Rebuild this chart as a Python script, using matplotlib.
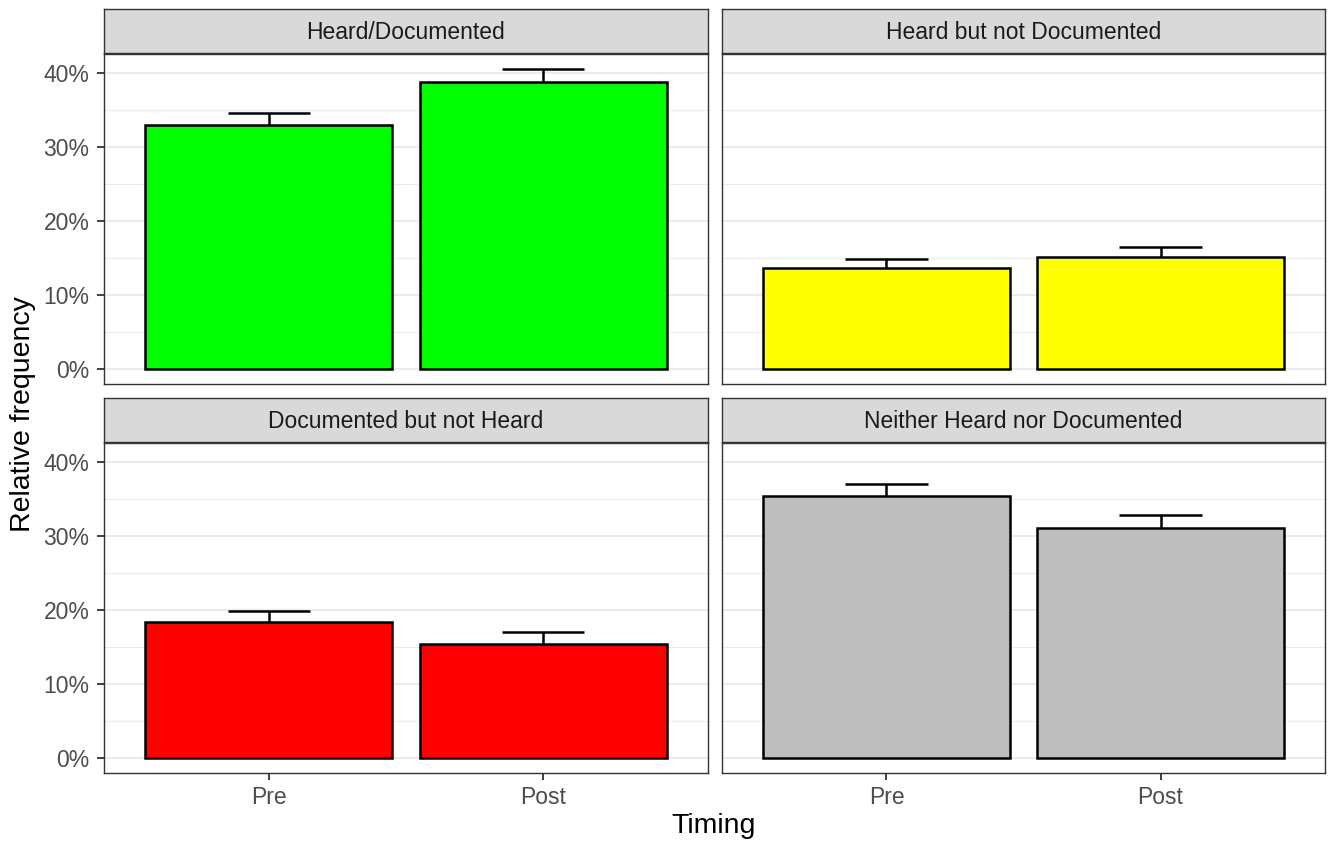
import numpy as np
import matplotlib.pyplot as plt
from matplotlib.ticker import FuncFormatter, MultipleLocator

plt.rcParams['font.family'] = ['Liberation Sans', 'DejaVu Sans']

panels = ['Heard/Documented', 'Heard but not Documented',
          'Documented but not Heard', 'Neither Heard nor Documented']
colors = ['#00FF00', '#FFFF00', '#FF0000', '#BEBEBE']
timing = ['Pre', 'Post']
freq = [[32.9, 38.7], [13.6, 15.1], [18.3, 15.4], [35.3, 31.0]]
upper = [[34.5, 40.5], [14.8, 16.5], [19.8, 17.0], [37.0, 32.8]]

W, H = 1328, 843
fig = plt.figure(figsize=(W / 100, H / 100), dpi=100)

# pixel boxes of the panel areas
cols = [(104, 708), (722, 1325)]
rows = [(54, 384), (443, 773)]
strip_h = 44

edge = '#333333'
for k in range(4):
    r, c = divmod(k, 2)
    x0, x1 = cols[c]
    y0, y1 = rows[r]
    ax = fig.add_axes([x0 / W, 1 - y1 / H, (x1 - x0) / W, (y1 - y0) / H])
    xs = np.arange(1, 3)
    ax.bar(xs, freq[k], width=0.9, color=colors[k], edgecolor='black',
           linewidth=1.8, zorder=3)
    for x, f, u in zip(xs, freq[k], upper[k]):
        ax.plot([x, x], [f, u], color='black', lw=1.8, zorder=4,
                solid_capstyle='butt')
        ax.plot([x - 0.15, x + 0.15], [u, u], color='black', lw=1.8,
                zorder=4, solid_capstyle='butt')
    ax.set_xlim(0.4, 2.6)
    ax.set_ylim(-2.03, 42.5)
    ax.yaxis.set_major_locator(MultipleLocator(10))
    ax.yaxis.set_minor_locator(MultipleLocator(5))
    ax.grid(which='major', axis='y', color='#EBEBEB', lw=1.4, zorder=0)
    ax.grid(which='minor', axis='y', color='#EBEBEB', lw=0.8, zorder=0)
    ax.set_xticks(xs)
    ax.tick_params(which='minor', length=0)
    ax.tick_params(which='major', length=5, width=1.3, color='#333333',
                   labelcolor='#4D4D4D', labelsize=16.5)
    ax.tick_params(axis='y', pad=5.5)
    ax.tick_params(axis='x', pad=4.5)
    for s in ax.spines.values():
        s.set_color(edge)
        s.set_linewidth(1.0)
    if c == 0:
        ax.yaxis.set_major_formatter(FuncFormatter(lambda v, p: '%d%%' % v))
    else:
        ax.set_yticklabels([])
        ax.tick_params(axis='y', length=0)
    if r == 1:
        ax.set_xticklabels(timing)
    else:
        ax.set_xticklabels([])
        ax.tick_params(axis='x', length=0)

    sax = fig.add_axes([x0 / W, 1 - (y0 - 1) / H, (x1 - x0) / W, strip_h / H])
    sax.set_facecolor('#D9D9D9')
    sax.set_xticks([])
    sax.set_yticks([])
    for s in sax.spines.values():
        s.set_color(edge)
        s.set_linewidth(1.0)
    sax.text(0.5, 0.46, panels[k], ha='center', va='center', fontsize=16.5,
             color='#1A1A1A', transform=sax.transAxes)

fig.text(714 / W, 1 - 826 / H, 'Timing', ha='center', va='center', fontsize=20.5)
fig.text(23 / W, 1 - 414 / H, 'Relative frequency', ha='center', va='center',
         rotation=90, fontsize=20.5)

fig.savefig('out.png', dpi=100)
